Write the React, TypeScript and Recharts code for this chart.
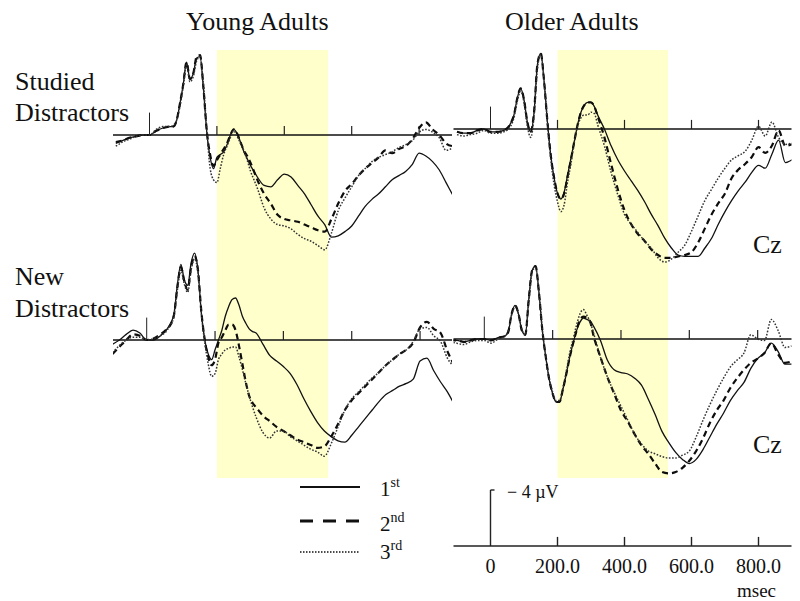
import React from 'react';
import { LineChart, Line, XAxis, YAxis, ReferenceArea, ReferenceLine, Legend } from 'recharts';

// ---------- data (µV, negative plotted upward) ----------
const TIME_MS = [-100, -80, -60, -40, -20, 0, 20, 40, 60,
  70, 80, 90, 100, 110, 120, 130, 140, 150, 160, 170, 180, 190, 200, 210, 220, 230, 240, 250, 260, 270, 280, 290, 300, 310, 320,
  340, 360, 380, 400, 420, 440, 460, 480, 500, 520, 540, 560, 580, 600, 620, 640, 660, 680, 700, 720, 740, 760, 780, 800, 820, 840, 860, 880, 900];

const YOUNG_STUDIED_1ST = [0.6, 0.4, 0.2, 0.1, 0.0, 0.0, -0.3, -0.5, -0.6,
  -0.6, -1.0, -2.2, -3.6, -5.2, -4.0, -4.4, -5.5, -5.6, -3.3, -0.2, 1.6, 2.4, 1.6, 1.4, 1.2, 0.7, 0.0, -0.4, -0.1, 0.5, 1.2, 1.7, 2.2, 2.6, 3.0,
  3.6, 3.7, 3.2, 2.8, 3.0, 3.6, 4.2, 5.0, 5.8, 6.4, 7.3, 7.2, 6.9, 6.5, 5.8, 5.1, 4.6, 4.2, 3.7, 3.2, 2.9, 2.6, 2.1, 1.3, 1.5, 1.9, 2.5, 3.4, 4.3];
const YOUNG_STUDIED_2ND = [0.5, 0.4, 0.2, 0.1, 0.0, 0.0, -0.3, -0.5, -0.6,
  -0.6, -1.0, -2.2, -3.6, -5.2, -4.0, -4.4, -5.6, -5.7, -3.4, -0.3, 1.4, 2.2, 1.8, 1.4, 1.0, 0.6, 0.0, -0.4, -0.1, 0.5, 1.1, 1.5, 2.0, 2.6, 3.2,
  4.2, 4.9, 5.7, 6.0, 6.1, 6.2, 6.4, 6.6, 6.8, 6.9, 6.0, 4.9, 4.0, 3.5, 2.9, 2.4, 2.0, 1.6, 1.1, 1.3, 1.0, 0.8, 0.3, -0.5, -0.9, -0.4, 0.0, 0.6, 0.8];
const YOUNG_STUDIED_3RD = [0.8, 0.5, 0.3, 0.1, 0.0, 0.0, -0.4, -0.6, -0.6,
  -0.7, -1.0, -2.0, -3.4, -5.0, -3.8, -4.2, -5.3, -5.6, -3.6, -0.4, 2.4, 3.2, 3.4, 2.4, 1.4, 0.8, 0.2, -0.3, 0.1, 0.6, 1.1, 1.8, 2.6, 3.2, 3.8,
  5.2, 6.0, 6.4, 6.5, 6.7, 7.1, 7.4, 7.6, 7.9, 8.2, 7.0, 5.4, 4.5, 3.7, 2.9, 2.4, 1.9, 1.6, 1.4, 1.2, 0.9, 0.7, 0.4, -0.2, -0.4, -0.2, 0.2, 1.1, 0.9];

const YOUNG_NEW_1ST = [0.3, 0.0, -0.4, -0.7, -0.5, 0.0, 0.0, -0.3, -0.8,
  -1.2, -1.9, -4.0, -5.4, -4.3, -3.9, -5.5, -6.2, -5.0, -1.9, 0.0, 1.0, 1.4, 0.7, 0.0, -0.7, -1.7, -2.4, -2.9, -3.0, -2.5, -1.7, -1.2, -0.8, -0.6, -0.5,
  0.3, 1.1, 1.5, 1.9, 2.4, 3.2, 4.2, 5.1, 5.9, 6.5, 6.9, 7.2, 7.3, 6.8, 6.2, 5.6, 5.0, 4.4, 3.9, 3.6, 3.3, 3.1, 2.8, 1.5, 1.3, 2.2, 3.0, 3.7, 4.6];
const YOUNG_NEW_2ND = [1.0, 0.5, 0.0, -0.4, -0.3, 0.0, -0.1, -0.4, -0.8,
  -1.1, -1.8, -3.8, -5.2, -4.2, -3.6, -5.2, -6.0, -5.0, -2.0, 0.0, 1.2, 1.8, 1.4, 0.2, -0.2, -0.7, -1.1, -1.1, -0.7, 0.4, 1.7, 3.0, 4.0, 4.5, 4.8,
  5.4, 5.8, 6.2, 6.5, 6.8, 7.1, 7.3, 7.5, 7.7, 7.6, 6.9, 6.0, 5.0, 4.3, 3.8, 3.3, 2.8, 2.3, 1.8, 1.4, 1.0, 0.7, 0.2, -0.9, -1.3, -0.8, -0.5, 0.8, 1.8];
const YOUNG_NEW_3RD = [0.9, 0.4, 0.0, -0.2, -0.2, 0.0, -0.1, -0.3, -0.7,
  -1.1, -1.7, -3.6, -5.0, -4.0, -3.4, -5.0, -5.8, -4.8, -1.9, 0.2, 1.7, 2.6, 2.4, 1.4, 1.0, 0.7, 0.6, 0.5, 0.5, 1.2, 2.1, 3.1, 4.0, 4.8, 5.5,
  6.6, 7.0, 6.5, 6.5, 6.9, 7.2, 7.5, 7.8, 8.0, 8.3, 7.4, 6.2, 5.0, 4.2, 3.7, 3.2, 2.7, 2.3, 1.8, 1.4, 1.0, 0.7, 0.1, -0.8, -0.9, -0.3, 0.1, 1.3, 1.9];

const OLDER_STUDIED_1ST = [0.2, 0.3, 0.3, 0.1, 0.0, 0.2, 0.2, 0.1, -0.4,
  -1.0, -2.2, -2.9, -2.1, -0.5, 0.2, -1.2, -4.6, -5.4, -3.4, -0.5, 1.9, 3.5, 4.6, 5.0, 4.5, 3.3, 2.1, 0.9, -0.3, -1.2, -1.7, -1.9, -1.9, -1.6, -1.0,
  0.0, 1.2, 2.2, 3.0, 3.7, 4.4, 5.2, 6.1, 6.9, 7.8, 8.5, 9.0, 9.1, 9.1, 9.1, 8.5, 7.8, 6.8, 5.9, 5.1, 4.4, 3.8, 3.1, 2.6, 2.8, 1.8, 0.8, 2.4, 2.2];
const OLDER_STUDIED_2ND = [0.2, 0.3, 0.3, 0.1, 0.0, 0.2, 0.2, 0.1, -0.4,
  -1.0, -2.2, -2.9, -2.1, -0.5, 0.2, -1.2, -4.6, -5.4, -3.4, -0.5, 1.9, 3.5, 4.6, 5.0, 4.6, 3.4, 2.2, 0.9, -0.3, -1.2, -1.7, -1.9, -1.9, -1.6, -0.9,
  0.6, 2.5, 4.3, 5.8, 6.8, 7.5, 8.0, 8.6, 9.0, 9.2, 9.2, 9.1, 9.0, 8.8, 8.1, 7.1, 6.1, 5.3, 4.6, 3.5, 2.9, 2.5, 2.0, 1.3, 1.7, 1.2, 0.1, 1.2, 1.1];
const OLDER_STUDIED_3RD = [0.4, 0.5, 0.4, 0.3, 0.1, 0.3, 0.3, 0.2, -0.2,
  -0.8, -2.0, -2.7, -1.9, -0.2, 0.6, -0.9, -4.3, -5.3, -3.5, -0.4, 2.2, 4.0, 5.2, 5.9, 5.4, 3.8, 2.5, 1.0, -0.2, -0.8, -1.0, -1.0, -1.2, -1.1, -0.3,
  1.2, 3.1, 4.7, 6.1, 6.8, 7.4, 8.0, 8.5, 9.2, 9.5, 9.3, 8.8, 8.3, 7.3, 6.2, 5.1, 4.3, 3.5, 2.8, 2.2, 1.9, 1.6, 0.8, -0.2, 0.5, -0.5, 0.6, 1.1, 1.0];

const OLDER_NEW_1ST = [0.1, 0.1, 0.2, 0.1, 0.0, 0.0, 0.1, -0.1, -0.2,
  -0.5, -1.8, -2.4, -1.8, -0.6, -0.3, -2.8, -4.9, -5.2, -3.3, -0.6, 1.3, 2.9, 3.9, 4.5, 4.5, 3.6, 2.5, 1.3, 0.3, -0.6, -1.2, -1.5, -1.4, -1.3, -0.9,
  0.1, 1.5, 2.2, 2.4, 2.5, 2.8, 3.3, 4.3, 5.4, 6.6, 7.4, 8.1, 8.6, 8.9, 8.6, 7.9, 7.0, 6.1, 5.3, 4.4, 3.7, 3.1, 2.1, 1.4, 1.0, 0.3, 0.9, 1.8, 1.8];
const OLDER_NEW_2ND = [0.1, 0.1, 0.2, 0.1, 0.0, 0.0, 0.1, -0.1, -0.2,
  -0.5, -1.8, -2.4, -1.8, -0.6, -0.3, -2.8, -4.9, -5.2, -3.3, -0.6, 1.3, 2.9, 3.9, 4.5, 4.5, 3.6, 2.5, 1.3, 0.3, -0.6, -1.4, -1.6, -1.5, -1.2, -0.2,
  1.3, 2.7, 3.9, 5.1, 5.9, 6.8, 7.6, 8.2, 8.9, 9.5, 9.6, 9.5, 9.2, 8.7, 8.0, 7.1, 6.0, 5.1, 4.4, 3.5, 2.8, 2.2, 1.7, 1.4, 1.0, 0.3, 1.1, 1.7, 1.6];
const OLDER_NEW_3RD = [0.2, 0.3, 0.4, 0.2, 0.1, 0.1, 0.3, 0.0, -0.2,
  -0.6, -1.7, -2.3, -1.8, -0.7, -0.3, -2.6, -4.8, -5.1, -3.3, -0.6, 1.3, 2.8, 3.8, 4.4, 4.4, 3.5, 2.3, 1.0, 0.0, -1.0, -1.8, -2.1, -1.7, -1.2, -0.4,
  1.3, 2.7, 3.8, 4.8, 5.8, 6.8, 7.5, 8.0, 8.2, 8.4, 8.5, 8.5, 8.3, 8.0, 7.0, 5.8, 4.7, 3.7, 2.8, 2.0, 1.5, 1.0, -0.3, 0.0, 0.1, -1.4, -0.6, 0.6, 0.5];

const SERIES_NAMES = ['1st', '2nd', '3rd'];
const GROUP_TITLES = ['Young Adults', 'Older Adults'];
const ROW_LABELS = [['Studied', 'Distractors'], ['New', 'Distractors']];
const ELECTRODE = 'Cz';
const X_TICKS = [0, 200, 400, 600, 800];
const X_TICK_LABELS = ['0', '200.0', '400.0', '600.0', '800.0'];
const X_UNIT = 'msec';
const WINDOW_MS = [200, 530];
const SCALE_BAR_UV = -4;
const SCALE_LABEL = '\u2212 4 \u00B5V';

// ---------- table ----------
const rows = TIME_MS.map((t, i) => ({
  t,
  ys1: YOUNG_STUDIED_1ST[i], ys2: YOUNG_STUDIED_2ND[i], ys3: YOUNG_STUDIED_3RD[i],
  yn1: YOUNG_NEW_1ST[i], yn2: YOUNG_NEW_2ND[i], yn3: YOUNG_NEW_3RD[i],
  os1: OLDER_STUDIED_1ST[i], os2: OLDER_STUDIED_2ND[i], os3: OLDER_STUDIED_3RD[i],
  on1: OLDER_NEW_1ST[i], on2: OLDER_NEW_2ND[i], on3: OLDER_NEW_3RD[i],
}));

// ---------- layout / style ----------
const FONT = '"Liberation Serif", "Times New Roman", Times, serif';
const W = 800;
const H = 601;
const PX_PER_UV = 14;
const PLOT_TOP = 40;
const PLOT_BOTTOM = 546;
const SHADE_TOP = 50;
const SHADE_BOTTOM = 478;
const AXIS_H = 30;
const TICK_UV = -0.65;
const ONSET_UV = -1.6;
const SHADE_COLOR = '#ffffcc';

const STYLES: Record<string, any> = {
  '1st': { stroke: '#111111', width: 1.3, dash: undefined, lWidth: 2, lDash: undefined },
  '2nd': { stroke: '#0d0d0d', width: 2.2, dash: '6 4', lWidth: 3.2, lDash: '13 10' },
  '3rd': { stroke: '#333333', width: 1.5, dash: '1.6 1.6', lWidth: 1.3, lDash: '1.5 1.5' },
};

type Panel = { zero: number; pxPerMs: number; base: number; keys: string[] };
type Col = { left: number; right: number; top: Panel; bottom: Panel; axis: boolean; legend: boolean };

const COLUMNS: Col[] = [
  {
    left: 113, right: 452,
    top: { zero: 149.5, pxPerMs: 0.337, base: 135, keys: ['ys1', 'ys2', 'ys3'] },
    bottom: { zero: 146.7, pxPerMs: 0.3417, base: 340, keys: ['yn1', 'yn2', 'yn3'] },
    axis: false, legend: true,
  },
  {
    left: 453.5, right: 791.5,
    top: { zero: 490.5, pxPerMs: 0.335, base: 129, keys: ['os1', 'os2', 'os3'] },
    bottom: { zero: 484.3, pxPerMs: 0.3417, base: 339, keys: ['on1', 'on2', 'on3'] },
    axis: true, legend: false,
  },
];

const xDomain = (c: Col, p: Panel) => [(c.left - p.zero) / p.pxPerMs, (c.right - p.zero) / p.pxPerMs];
const yDomain = (base: number) => [-(base - PLOT_TOP) / PX_PER_UV, (PLOT_BOTTOM - base) / PX_PER_UV];
const pxToUv = (px: number, base: number) => (px - base) / PX_PER_UV;

const renderLegend = (props: any) => {
  const items = (props.payload || []).filter((p: any) => p.type !== 'none' && STYLES[p.value]);
  const lineY = [17, 51, 82];
  const textY = [26, 61, 89];
  return (
    <svg width={140} height={96} style={{ overflow: 'visible' }}>
      {items.map((it: any, i: number) => {
        const st = STYLES[it.value];
        const m = String(it.value).match(/^(\d+)(\D+)$/);
        return (
          <g key={it.value}>
            <line x1={2} x2={62} y1={lineY[i]} y2={lineY[i]} stroke="#111" strokeWidth={st.lWidth} strokeDasharray={st.lDash} />
            <text x={82} y={textY[i]} fontFamily={FONT} fontSize={21} fill="#111">
              {m ? m[1] : it.value}
              {m ? <tspan fontSize={14} dy={-9}>{m[2]}</tspan> : null}
            </text>
          </g>
        );
      })}
    </svg>
  );
};

function ColumnChart({ col }: { col: Col }) {
  const panels: [string, Panel][] = [['top', col.top], ['bot', col.bottom]];
  return (
    <div style={{ position: 'absolute', left: 0, top: 0 }}>
      <LineChart
        width={W}
        height={H}
        data={rows}
        margin={{ top: PLOT_TOP, left: col.left, right: W - col.right, bottom: H - PLOT_BOTTOM - (col.axis ? AXIS_H : 0) }}
      >
        <XAxis
          xAxisId="top" dataKey="t" type="number" domain={xDomain(col, col.top)} allowDataOverflow
          ticks={X_TICKS} interval={0} hide={!col.axis} height={col.axis ? AXIS_H : 0}
          tickFormatter={(v: number) => X_TICK_LABELS[X_TICKS.indexOf(v)] ?? String(v)}
          tickLine={false} tickSize={0} tickMargin={13}
          axisLine={{ stroke: '#222', strokeWidth: 1.5 }}
          tick={{ fontFamily: FONT, fontSize: 20, fill: '#111' }}
        />
        <XAxis xAxisId="bot" dataKey="t" type="number" domain={xDomain(col, col.bottom)} allowDataOverflow hide height={0} />
        <YAxis yAxisId="top" type="number" domain={yDomain(col.top.base)} allowDataOverflow reversed hide width={0} />
        <YAxis yAxisId="bot" type="number" domain={yDomain(col.bottom.base)} allowDataOverflow reversed hide width={0} />
        <YAxis yAxisId="scale" type="number" domain={yDomain(PLOT_BOTTOM)} allowDataOverflow reversed hide width={0} />

        <ReferenceArea
          xAxisId="top" yAxisId="top" x1={WINDOW_MS[0]} x2={WINDOW_MS[1]}
          y1={pxToUv(SHADE_TOP, col.top.base)} y2={pxToUv(SHADE_BOTTOM, col.top.base)}
          fill={SHADE_COLOR} fillOpacity={1} stroke="none" ifOverflow="visible"
        />

        {panels.map(([id]) => (
          <ReferenceLine key={`base-${id}`} xAxisId={id} yAxisId={id} y={0} stroke="#111" strokeWidth={1.4} />
        ))}
        {panels.map(([id]) => (
          <ReferenceLine key={`onset-${id}`} xAxisId={id} yAxisId={id}
            segment={[{ x: 0, y: 0 }, { x: 0, y: ONSET_UV }]} stroke="#222" strokeWidth={1} />
        ))}
        {panels.flatMap(([id]) => X_TICKS.filter((t) => t > 0).map((t) => (
          <ReferenceLine key={`tick-${id}-${t}`} xAxisId={id} yAxisId={id}
            segment={[{ x: t, y: 0 }, { x: t, y: TICK_UV }]} stroke="#222" strokeWidth={1.2} />
        )))}

        {col.axis && X_TICKS.filter((t) => t > 0).map((t) => (
          <ReferenceLine key={`axtick-${t}`} xAxisId="top" yAxisId="scale"
            segment={[{ x: t, y: 0 }, { x: t, y: TICK_UV }]} stroke="#222" strokeWidth={1.4} />
        ))}
        {col.axis && (
          <ReferenceLine xAxisId="top" yAxisId="scale"
            segment={[{ x: 0, y: 0 }, { x: 0, y: SCALE_BAR_UV }]} stroke="#222" strokeWidth={1.4} />
        )}
        {col.axis && (
          <ReferenceLine xAxisId="top" yAxisId="scale"
            segment={[{ x: 0, y: SCALE_BAR_UV }, { x: 12, y: SCALE_BAR_UV }]} stroke="#222" strokeWidth={1.4} />
        )}

        {panels.flatMap(([id, p]) => p.keys.map((k, j) => {
          const name = SERIES_NAMES[j];
          const st = STYLES[name];
          return (
            <Line
              key={`${id}-${k}`}
              xAxisId={id} yAxisId={id} dataKey={k} name={name}
              type="monotone" stroke={st.stroke} strokeWidth={st.width} strokeDasharray={st.dash}
              dot={false} activeDot={false} isAnimationActive={false}
              legendType={id === 'top' ? 'line' : 'none'}
            />
          );
        }))}

        {col.legend && (
          <Legend
            layout="vertical" align="center" verticalAlign="middle"
            content={renderLegend}
            wrapperStyle={{ position: 'absolute', left: 298, top: 470, width: 140, height: 96, right: 'auto', bottom: 'auto' }}
          />
        )}
      </LineChart>
    </div>
  );
}

function Annotations() {
  const txt = { fontFamily: FONT, fill: '#111' } as const;
  return (
    <svg width={W} height={H} style={{ position: 'absolute', left: 0, top: 0, pointerEvents: 'none' }}>
      <text x={186} y={30} fontSize={26} {...txt}>{GROUP_TITLES[0]}</text>
      <text x={505} y={30} fontSize={26} {...txt}>{GROUP_TITLES[1]}</text>
      <text x={15} y={90} fontSize={26} {...txt}>{ROW_LABELS[0][0]}</text>
      <text x={15} y={121} fontSize={26} {...txt}>{ROW_LABELS[0][1]}</text>
      <text x={15} y={285} fontSize={26} {...txt}>{ROW_LABELS[1][0]}</text>
      <text x={15} y={317} fontSize={26} {...txt}>{ROW_LABELS[1][1]}</text>
      <text x={753} y={253} fontSize={26} {...txt}>{ELECTRODE}</text>
      <text x={753} y={453} fontSize={26} {...txt}>{ELECTRODE}</text>
      <text x={507} y={498} fontSize={18} {...txt}>{SCALE_LABEL}</text>
      <text x={737} y={597} fontSize={19} {...txt}>{X_UNIT}</text>
    </svg>
  );
}

export default function App() {
  return (
    <div style={{ position: 'absolute', left: 0, top: 0, width: W, height: H, background: '#fff', overflow: 'hidden' }}>
      {COLUMNS.map((c, i) => <ColumnChart key={i} col={c} />)}
      <Annotations />
    </div>
  );
}
